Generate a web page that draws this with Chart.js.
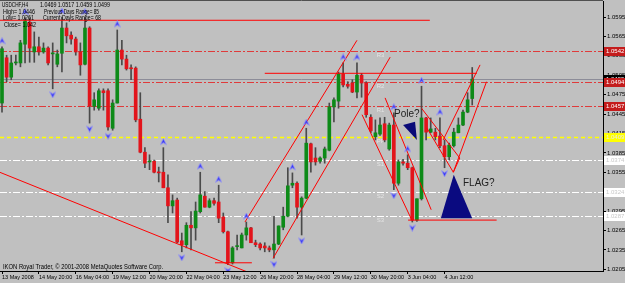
<!DOCTYPE html>
<html>
<head>
<meta charset="utf-8">
<script src="https://cdn.jsdelivr.net/npm/chart.js@4.4.0/dist/chart.umd.min.js"></script>
<style>
  html, body { margin: 0; padding: 0; background: #c0c0c0; }
</style>
</head>
<body>
<canvas id="c" width="625" height="283"></canvas>
<script>
// USDCHF H4 candles (bar index 0 = 13 May 2008)
const opens  = [1.0462,1.0532,1.0502,1.0524,1.0524,1.0553,1.0587,1.0541,1.0549,1.0541,1.0547,1.0538,1.0522,1.0539,1.0578,1.0567,1.0561,1.0541,1.0522,1.0578,
                1.0457,1.0454,1.0481,1.0481,1.0423,1.0462,1.0544,1.0530,1.0516,1.0516,1.0437,1.0386,1.0371,1.0372,1.0355,1.0355,1.0331,1.0303,1.0312,1.0249,
                1.0243,1.0273,1.0269,1.0294,1.0318,1.0301,1.0311,1.0309,1.0286,1.0263,1.0215,1.0240,1.0238,1.0258,1.0269,1.0246,1.0244,1.0241,1.0238,1.0235,
                1.0244,1.0270,1.0287,1.0335,1.0338,1.0301,1.0315,1.0399,1.0377,1.0372,1.0377,1.0389,1.0456,1.0465,1.0507,1.0491,1.0493,1.0479,1.0505,1.0493,
                1.0440,1.0410,1.0414,1.0430,1.0391,1.0428,1.0338,1.0371,1.0369,1.0362,1.0281,1.0314,1.0439,1.0417,1.0417,1.0411,1.0396,1.0379,1.0396,1.0416,
                1.0428,1.0448,1.0469]
const highs  = [1.0549,1.0536,1.0536,1.0536,1.0559,1.0594,1.0594,1.0572,1.0564,1.0555,1.0549,1.0555,1.0544,1.0595,1.0586,1.0572,1.0564,1.0555,1.0594,1.0580,
                1.0478,1.0484,1.0484,1.0484,1.0467,1.0575,1.0559,1.0536,1.0521,1.0518,1.0478,1.0393,1.0382,1.0374,1.0363,1.0393,1.0351,1.0320,1.0315,1.0261,
                1.0277,1.0294,1.0309,1.0355,1.0325,1.0314,1.0315,1.0335,1.0292,1.0264,1.0240,1.0258,1.0261,1.0278,1.0270,1.0250,1.0246,1.0246,1.0241,1.0287,
                1.0272,1.0301,1.0362,1.0354,1.0340,1.0317,1.0423,1.0400,1.0393,1.0379,1.0394,1.0462,1.0470,1.0510,1.0524,1.0495,1.0498,1.0524,1.0508,1.0495,
                1.0444,1.0436,1.0439,1.0440,1.0431,1.0447,1.0374,1.0375,1.0382,1.0363,1.0314,1.0488,1.0440,1.0439,1.0423,1.0439,1.0405,1.0400,1.0423,1.0439,
                1.0451,1.0478,1.0517]
const lows   = [1.0448,1.0495,1.0498,1.0521,1.0518,1.0524,1.0525,1.0525,1.0536,1.0539,1.0521,1.0484,1.0518,1.0510,1.0555,1.0553,1.0536,1.0505,1.0521,1.0431,
                1.0451,1.0451,1.0451,1.0420,1.0420,1.0462,1.0521,1.0513,1.0498,1.0433,1.0385,1.0362,1.0359,1.0354,1.0340,1.0331,1.0277,1.0292,1.0246,1.0232,
                1.0238,1.0235,1.0250,1.0292,1.0301,1.0300,1.0304,1.0277,1.0261,1.0212,1.0213,1.0235,1.0238,1.0250,1.0246,1.0240,1.0235,1.0232,1.0232,1.0222,
                1.0243,1.0266,1.0286,1.0331,1.0284,1.0258,1.0314,1.0355,1.0366,1.0369,1.0369,1.0388,1.0433,1.0454,1.0487,1.0485,1.0478,1.0470,1.0471,1.0440,
                1.0416,1.0405,1.0412,1.0402,1.0389,1.0328,1.0335,1.0366,1.0359,1.0278,1.0279,1.0312,1.0405,1.0416,1.0405,1.0393,1.0362,1.0374,1.0394,1.0416,
                1.0427,1.0447,1.0459]
const closes = [1.0546,1.0502,1.0524,1.0525,1.0555,1.0589,1.0547,1.0549,1.0541,1.0547,1.0524,1.0539,1.0538,1.0578,1.0566,1.0561,1.0541,1.0521,1.0578,1.0457,
                1.0467,1.0481,1.0478,1.0425,1.0462,1.0544,1.0530,1.0515,1.0515,1.0436,1.0386,1.0369,1.0372,1.0355,1.0354,1.0331,1.0303,1.0311,1.0247,1.0243,
                1.0273,1.0269,1.0295,1.0320,1.0301,1.0311,1.0307,1.0284,1.0263,1.0215,1.0238,1.0241,1.0258,1.0269,1.0246,1.0243,1.0238,1.0238,1.0235,1.0244,
                1.0272,1.0287,1.0334,1.0338,1.0301,1.0315,1.0400,1.0371,1.0371,1.0377,1.0391,1.0456,1.0467,1.0507,1.0490,1.0488,1.0479,1.0505,1.0493,1.0444,
                1.0419,1.0416,1.0428,1.0405,1.0428,1.0338,1.0371,1.0369,1.0362,1.0281,1.0314,1.0439,1.0417,1.0422,1.0410,1.0396,1.0379,1.0397,1.0417,1.0428,
                1.0448,1.0467,1.0499]

const fractalUp   = [0,5,13,18,25,35,43,47,53,63,66,74,77,85,88,91,95]
const fractalDown = [11,19,23,39,49,59,65,85,89,96]

const timeTickBars = [0,8,16,24,32,40,48,56,64,72,80,88,96]
const timeLabels = ['13 May 2008','14 May 20:00','16 May 04:00','19 May 12:00','20 May 20:00','22 May 04:00',
                    '23 May 12:00','26 May 20:00','28 May 04:00','29 May 12:00','30 May 20:00','3 Jun 04:00','4 Jun 12:00']
const priceTicks = [1.0205,1.0235,1.0265,1.0295,1.0325,1.0355,1.0385,1.0415,1.0445,1.0475,1.0505,1.0535,1.0565,1.0595]

// daily pivots
const pivotNames  = ['R3','R2','R1','PP','S1','S2','S3']
const pivotValues = [1.0542,1.0494,1.0457,1.0409,1.0374,1.0324,1.0287]
const bidPrice = 1.0499

// hand drawn trend lines: [bar1, price1, bar2, price2]
const trendLines = [
  [-0.5, 1.0590, 92.8, 1.0590],
  [57.0, 1.0508, 103.0, 1.0508],
  [88.1, 1.0281, 107.3, 1.0281],
  [-0.5, 1.0355, 54.2, 1.0198],
  [46.2, 1.0215, 54.2, 1.0215],
  [52.7, 1.0278, 77.0, 1.0559],
  [58.8, 1.0222, 84.2, 1.0533],
  [78.1, 1.0444, 88.9, 1.0281],
  [83.1, 1.0470, 93.1, 1.0297],
  [91.0, 1.0454, 99.3, 1.0377],
  [99.3, 1.0377, 97.9, 1.0355],
  [92.2, 1.0423, 97.9, 1.0355],
  [95.7, 1.0405, 103.7, 1.0521],
  [97.9, 1.0355, 105.1, 1.0495]
]

// pennant marks
const poleBars = [87.0, 89.6, 90.0]
const polePrices = [1.0428, 1.0433, 1.0405]
const flagBars = [98.0, 95.2, 102.0]
const flagPrices = [1.0351, 1.0284, 1.0284]

const FONT = 'Liberation Sans'
Chart.defaults.font.family = FONT
Chart.defaults.font.size = 6
Chart.defaults.color = '#000'

function makeArrow(up) {
    const c = document.createElement('canvas')
    c.width = 7
    c.height = 19
    const g = c.getContext('2d')
    if (!up) { g.translate(0, 19); g.scale(1, -1) }
    g.beginPath()
    g.moveTo(3.5, 0.5); g.lineTo(6.5, 6.5); g.lineTo(3.5, 4.5); g.lineTo(0.5, 6.5)
    g.closePath()
    g.fillStyle = '#3535f0'
    g.fill()
    g.strokeStyle = '#9090ff'
    g.lineWidth = 0.7
    g.stroke()
    return c
}

// squeeze text into the width it has in the screenshot
function fitText(ctx, text, x, y, w) {
    const m = ctx.measureText(text).width
    ctx.save()
    ctx.translate(x, y)
    ctx.scale(Math.min(1, w / m), 1)
    ctx.fillText(text, 0, 0)
    ctx.restore()
}

const wickData = opens.map((o, i) => ({x: i, y: [lows[i], highs[i]]}))
const bodyData = opens.map((o, i) => ({x: i, y: [o, closes[i]]}))
const bodyColors = opens.map((o, i) => closes[i] >= o ? '#0d8a18' : '#e2141b')

let datasets = [
    {
        type: 'scatter', data: fractalUp.map(i => ({x: i, y: highs[i]})),
        pointStyle: makeArrow(true), pointRadius: 3, order: 0
    },
    {
        type: 'scatter', data: fractalDown.map(i => ({x: i, y: lows[i]})),
        pointStyle: makeArrow(false), pointRadius: 3, order: 0
    },
    {
        type: 'bar', data: bodyData, backgroundColor: bodyColors, barThickness: 3,
        minBarLength: 1, grouped: false, order: 2
    },
    {
        type: 'bar', data: wickData, backgroundColor: '#4a4a4a', barThickness: 1,
        grouped: false, order: 3
    }
]
trendLines.forEach(t => {
    datasets.push({
        type: 'line', data: [{x: t[0], y: t[1]}, {x: t[2], y: t[3]}],
        borderColor: '#ff0000', borderWidth: 1, pointRadius: 0, fill: false, order: 1
    })
})

function polygon(chart, bars, prices, color) {
    const {ctx, scales: {x, y}} = chart
    ctx.beginPath()
    bars.forEach((b, k) => {
        const px = x.getPixelForValue(b), py = y.getPixelForValue(prices[k])
        if (k === 0) ctx.moveTo(px, py); else ctx.lineTo(px, py)
    })
    ctx.closePath()
    ctx.fillStyle = color
    ctx.fill()
}

function noPadding(s) {
    s.paddingTop = 0
    s.paddingBottom = 0
    s.paddingLeft = 0
    s.paddingRight = 0
}

const mtPlugin = {
    id: 'mt',
    beforeDraw(chart) {
        const ctx = chart.ctx
        ctx.save()
        ctx.fillStyle = '#c0c0c0'
        ctx.fillRect(0, 0, chart.width, chart.height)
        ctx.restore()
    },
    beforeDatasetsDraw(chart) {
        const {ctx, chartArea: a, scales: {x, y}} = chart
        ctx.save()
        // bid line
        let py = Math.round(y.getPixelForValue(bidPrice)) + 0.5
        ctx.strokeStyle = '#8c8c98'
        ctx.lineWidth = 1
        ctx.beginPath(); ctx.moveTo(a.left, py); ctx.lineTo(a.right, py); ctx.stroke()
        pivotValues.forEach((v, k) => {
            py = Math.round(y.getPixelForValue(v)) + 0.5
            if (pivotNames[k] === 'PP') {
                ctx.strokeStyle = '#ffff00'; ctx.lineWidth = 1.5; ctx.setLineDash([4, 3])
            } else {
                ctx.strokeStyle = pivotNames[k][0] === 'R' ? '#e03a3a' : '#ffffff'
                ctx.lineWidth = 1; ctx.setLineDash([7, 2, 2, 2])
            }
            ctx.beginPath(); ctx.moveTo(a.left, py); ctx.lineTo(a.right, py); ctx.stroke()
        })
        ctx.setLineDash([])
        ctx.fillStyle = '#e4e4e4'
        ctx.font = '6px ' + FONT
        ctx.textBaseline = 'middle'
        pivotValues.forEach((v, k) => {
            ctx.fillText(pivotNames[k], x.getPixelForValue(81.3), y.getPixelForValue(v) + 4)
        })
        ctx.restore()
    },
    afterDatasetsDraw(chart) {
        const {ctx, scales: {x, y}} = chart
        ctx.save()
        polygon(chart, poleBars, polePrices, '#0a0a78')
        polygon(chart, flagBars, flagPrices, '#0a0a80')
        ctx.fillStyle = '#202020'
        ctx.font = '10px ' + FONT
        ctx.textBaseline = 'middle'
        ctx.textAlign = 'center'
        ctx.fillText('Pole?', x.getPixelForValue(87.8), y.getPixelForValue(1.0445))
        ctx.textAlign = 'left'
        ctx.fillText('FLAG?', x.getPixelForValue(100), y.getPixelForValue(1.0338))
        ctx.restore()
    },
    afterDraw(chart) {
        const {ctx, chartArea: a, scales: {y}} = chart
        ctx.save()
        // top frame line
        ctx.strokeStyle = '#505050'
        ctx.beginPath(); ctx.moveTo(0, a.top - 0.5); ctx.lineTo(a.right, a.top - 0.5); ctx.stroke()
        // price boxes on the axis
        const boxes = [
            [bidPrice, '#000000', '#ffffff'],
            [pivotValues[0], '#c41c1c', '#ffffff'],
            [pivotValues[1], '#c41c1c', '#ffffff'],
            [pivotValues[2], '#c41c1c', '#ffffff'],
            [pivotValues[3], '#ffff00', '#e8e8e8'],
            [pivotValues[4], '#ffffff', '#c8c8c8'],
            [pivotValues[5], '#ffffff', '#c8c8c8'],
            [pivotValues[6], '#ffffff', '#c8c8c8']
        ]
        ctx.font = '6px ' + FONT
        ctx.textBaseline = 'middle'
        boxes.forEach(b => {
            const py = Math.round(y.getPixelForValue(b[0]))
            ctx.fillStyle = b[1]
            ctx.fillRect(a.right + 1, py - 4, 21, 9)
            ctx.fillStyle = b[2]
            ctx.fillText(b[0].toFixed(4), a.right + 3, py + 0.5)
        })
        // header and footer text
        ctx.fillStyle = '#000'
        ctx.font = '6.5px ' + FONT
        fitText(ctx, 'USDCHF,H4', 2, 5, 26)
        fitText(ctx, '1.0469 1.0517 1.0459 1.0499', 40, 5, 70)
        fitText(ctx, 'High= 1.0446', 3, 12, 32)
        fitText(ctx, 'Previous Days Range= 85', 44, 12, 55)
        fitText(ctx, 'Low= 1.0261', 3, 18.5, 31)
        fitText(ctx, 'Current Days Range= 68', 43, 18.5, 58)
        fitText(ctx, 'Close= 1.042', 4, 25, 32)
        fitText(ctx, 'IKON Royal Trader, \u00a9 2001-2008 MetaQuotes Software Corp.', 3, 267.5, 160)
        ctx.restore()
    }
}

new Chart(document.getElementById('c'), {
    type: 'bar',
    data: {datasets: datasets},
    options: {
        responsive: false,
        animation: false,
        layout: {autoPadding: false, padding: {top: 1, left: 0, right: 0, bottom: 0}},
        plugins: {legend: {display: false}, tooltip: {enabled: false}},
        scales: {
            x: {
                type: 'linear', min: -0.434, max: 130.37, offset: false,
                grid: {display: true, drawOnChartArea: false, drawTicks: true, tickLength: 3, color: '#000', offset: false},
                border: {display: true, color: '#000'},
                afterBuildTicks: s => { s.ticks = timeTickBars.map(v => ({value: v})) },
                afterFit: s => { s.height = 12; noPadding(s) },
                ticks: {
                    autoSkip: false, maxRotation: 0, minRotation: 0, align: 'start', padding: 0,
                    font: {size: 5.5},
                    callback: v => timeLabels[timeTickBars.indexOf(v)]
                }
            },
            y: {
                position: 'right', min: 1.02023, max: 1.06198, beginAtZero: false,
                grid: {display: true, drawOnChartArea: false, drawTicks: true, tickLength: 3, color: '#000'},
                border: {display: true, color: '#000'},
                afterBuildTicks: s => { s.ticks = priceTicks.map(v => ({value: v})) },
                afterFit: s => { s.width = 22; noPadding(s) },
                ticks: {padding: 1, callback: v => v.toFixed(4)}
            }
        }
    },
    plugins: [mtPlugin]
})
</script>
</body>
</html>
